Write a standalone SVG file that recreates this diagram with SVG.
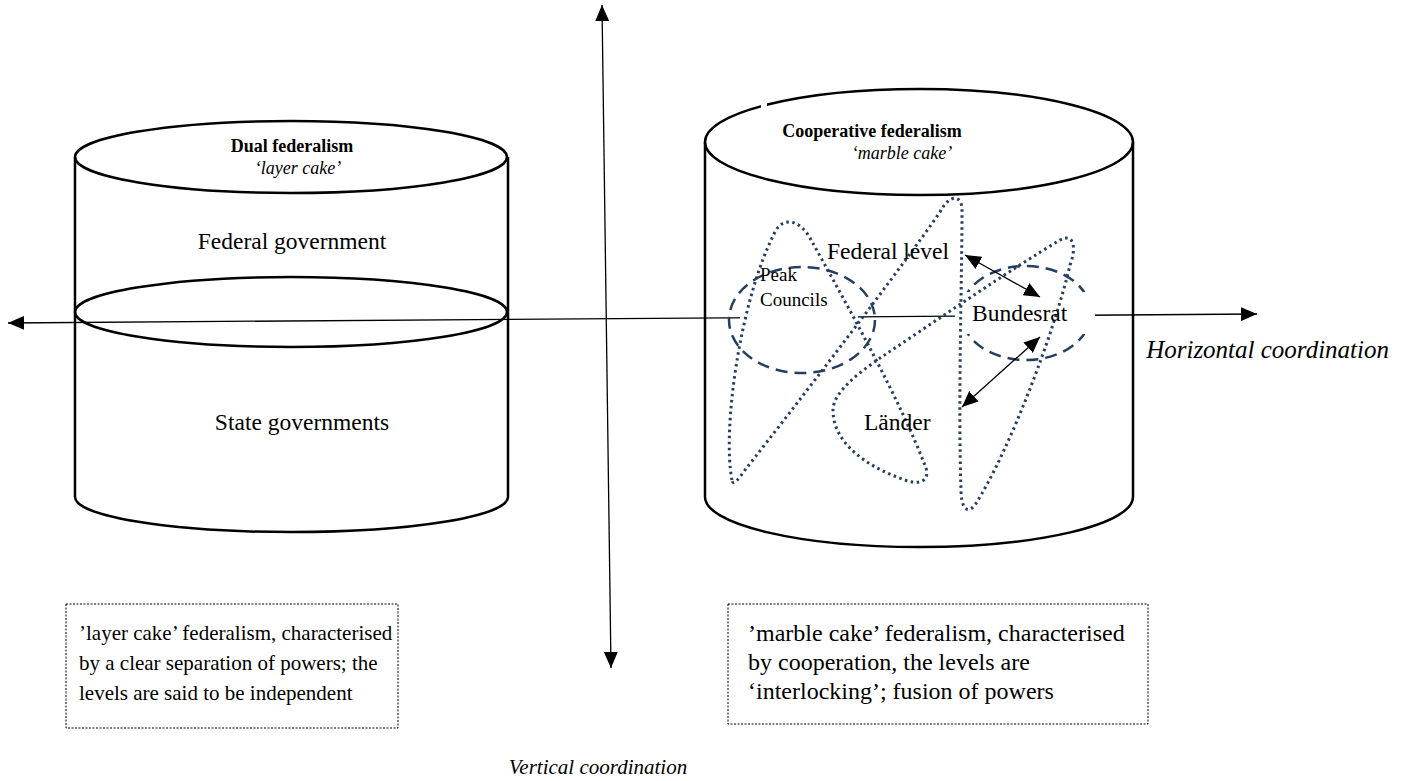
<svg xmlns="http://www.w3.org/2000/svg" width="1403" height="781" viewBox="0 0 1403 781">
<style>
.cyl{fill:none;stroke:#000;stroke-width:2.5}
.ax{stroke:#000;stroke-width:1.3;fill:none}
.t{font-family:"Liberation Serif","Times New Roman",serif;font-size:21px;fill:#000}
.l{font-size:23.5px}
.n2{font-size:24px}
.b{font-weight:bold;font-size:18px}
.h{font-size:18px}
.i{font-style:italic}
.dash{fill:none;stroke:#243f60;stroke-width:2.5;stroke-dasharray:12 7}
.dot{fill:none;stroke:#243f60;stroke-width:3;stroke-dasharray:2.5 3.5}
.box{fill:none;stroke:#000;stroke-width:1;stroke-dasharray:2 1.5}
</style>
<defs>
<marker id="ah" viewBox="0 0 16 14" refX="16" refY="7" markerWidth="16" markerHeight="14" markerUnits="userSpaceOnUse" orient="auto-start-reverse">
<path d="M0,0 L16,7 L0,14 z" fill="#000"/>
</marker>
</defs>
<rect width="1403" height="781" fill="#fff"/>

<g id="dual">
<ellipse class="cyl" cx="291" cy="157" rx="216" ry="36"/>
<path class="cyl" d="M75,157 L75,497 A216,35 0 0 0 508,497 L508,157"/>
<ellipse class="cyl" cx="291" cy="312" rx="216" ry="35"/>
</g>

<g id="coop">
<ellipse class="cyl" cx="919" cy="142" rx="214" ry="53"/>
<path class="cyl" d="M705,142 L705,497 A214,50 0 0 0 1133,497 L1133,142"/>
<rect x="761" y="99" width="6" height="9" fill="#fff"/>
</g>

<g id="connectors">
<line class="ax" x1="8" y1="323" x2="1257" y2="314" marker-start="url(#ah)" marker-end="url(#ah)"/>
<line class="ax" x1="602" y1="5" x2="611" y2="668" marker-start="url(#ah)" marker-end="url(#ah)"/>
</g>

<rect x="740" y="308" width="118" height="18" fill="#fff"/>
<g id="peak">
<ellipse class="dash" cx="802" cy="320" rx="73" ry="53"/>
</g>
<g id="bundesrat">
<ellipse class="dash" cx="1026" cy="313" rx="65" ry="47"/>
<rect x="955" y="292" width="140" height="42" fill="#fff"/>
</g>

<g id="marble">
<path class="dot" d="M732,480 C722,430 740,300 775,232 C783,216 800,220 810,238 C850,310 900,400 926,468 C930,482 918,485 905,480 C870,468 833,445 833,410 C833,392 860,372 880,358 C940,318 1010,270 1060,240 C1075,232 1076,250 1070,265 C1055,330 1010,450 975,505 C966,516 961,505 961,490 C958,400 962,280 962,210 C962,195 950,193 940,212 C900,270 800,400 745,470 C738,480 733,486 732,480 Z"/>
</g>

<g id="links">
<line class="ax" x1="965" y1="255" x2="1040" y2="297" marker-start="url(#ah)" marker-end="url(#ah)"/>
<line class="ax" x1="1040" y1="337" x2="962" y2="407" marker-start="url(#ah)" marker-end="url(#ah)"/>
</g>

<g id="labels">
<text class="t b" x="292" y="152" text-anchor="middle">Dual federalism</text>
<text class="t h i" x="298" y="174" text-anchor="middle">‘layer cake’</text>
<text class="t l" x="292" y="249" text-anchor="middle">Federal government</text>
<text class="t l" x="302" y="430" text-anchor="middle">State governments</text>
<text class="t b" x="872" y="137" text-anchor="middle">Cooperative federalism</text>
<text class="t h i" x="902" y="159" text-anchor="middle">‘marble cake’</text>
<text class="t l" x="827" y="259">Federal level</text>
<text class="t" x="760" y="281" style="font-size:19px">Peak</text>
<text class="t" x="760" y="306" style="font-size:19px">Councils</text>
<text class="t l" x="972" y="321">Bundesrat</text>
<text class="t l" x="864" y="430">Länder</text>
<text class="t i" x="1389" y="358" text-anchor="end" style="font-size:25px">Horizontal coordination</text>
<text class="t i" x="598" y="774" text-anchor="middle">Vertical coordination</text>
</g>

<g id="note-dual">
<rect class="box" x="66" y="604" width="332" height="124"/>
<text class="t" x="79" y="640">’layer cake’ federalism, characterised</text>
<text class="t" x="79" y="670">by a clear separation of powers; the</text>
<text class="t" x="79" y="700">levels are said to be independent</text>
</g>

<g id="note-coop">
<rect class="box" x="728" y="604" width="420" height="120"/>
<text class="t n2" x="748" y="641">’marble cake’ federalism, characterised</text>
<text class="t n2" x="748" y="670">by cooperation, the levels are</text>
<text class="t n2" x="748" y="699">‘interlocking’; fusion of powers</text>
</g>
</svg>
